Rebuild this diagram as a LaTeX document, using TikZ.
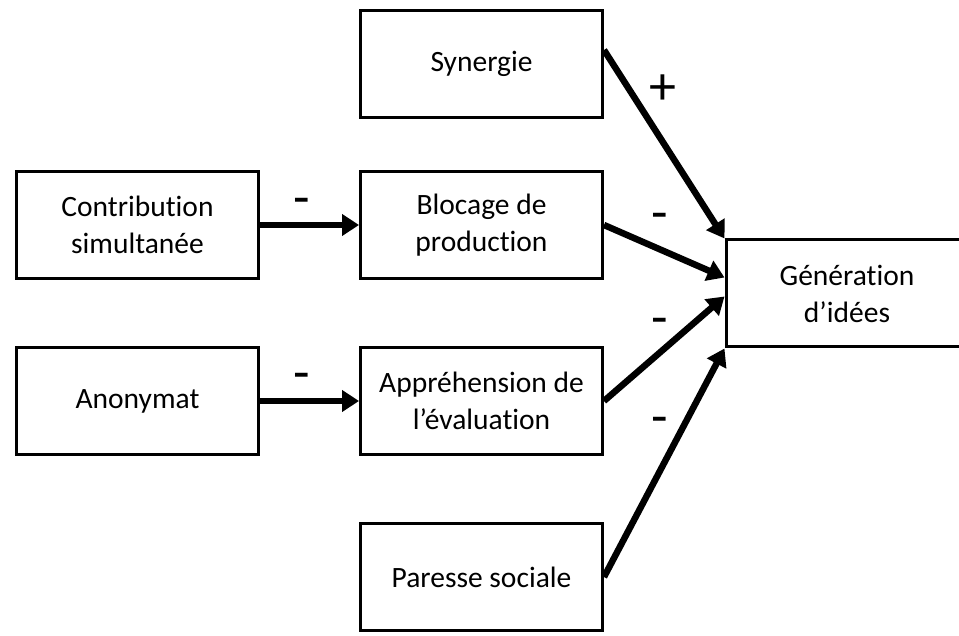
\documentclass[tikz,border=0pt]{standalone}
\usepackage{fontspec}
\setmainfont{Carlito}[Ligatures=NoCommon]
\usetikzlibrary{positioning,arrows.meta}

\begin{document}
\begin{tikzpicture}[x=1pt, y=1pt,
  main/.style = {draw, line width=3pt, minimum width=242pt, minimum height=107pt, inner sep=0pt, align=center, font=\fontsize{29.5}{37}\selectfont},
  link/.style = {line width=6.5pt, -{Triangle[length=17pt,width=21pt]}},
  sign/.style = {inner sep=0pt, font=\fontsize{54}{54}\selectfont},
  node distance={51pt}]
\clip (0,0) rectangle (959,635);
\node[main] (syn) at (481.5,571) {Synergie};
\node[main] (bloc) [below=of syn] {Blocage de\\production};
\node[main] (appr) [below=66pt of bloc] {Appréhension de\\l’évaluation};
\node[main] (par) [below=66pt of appr] {Paresse sociale};
\node[main] (con) [left=99pt of bloc] {Contribution\\simultanée};
\node[main] (ano) [left=99pt of appr] {Anonymat};
\node[main] (gen) at (847,341.5) {Génération\\d’idées};
\draw[link] (con) -- (bloc);
\draw[link] (ano) -- (appr);
\draw[link] ([yshift=14pt]syn.east) -- (gen.north west);
\draw[link] (bloc.east) -- ([yshift=16pt]gen.west);
\draw[link] (appr.east) -- ([yshift=-3pt]gen.west);
\draw[link] (par.east) -- (gen.south west);
\node[sign] (s1) at (663,545) {+};
\node[sign] (s2) at (660,413) {-};
\node[sign] (s3) at (660,308) {-};
\node[sign] (s4) at (660,209) {-};
\node[sign] (s5) at (301.5,428) {-};
\node[sign] (s6) at (301.5,253) {-};
\end{tikzpicture}
\end{document}
